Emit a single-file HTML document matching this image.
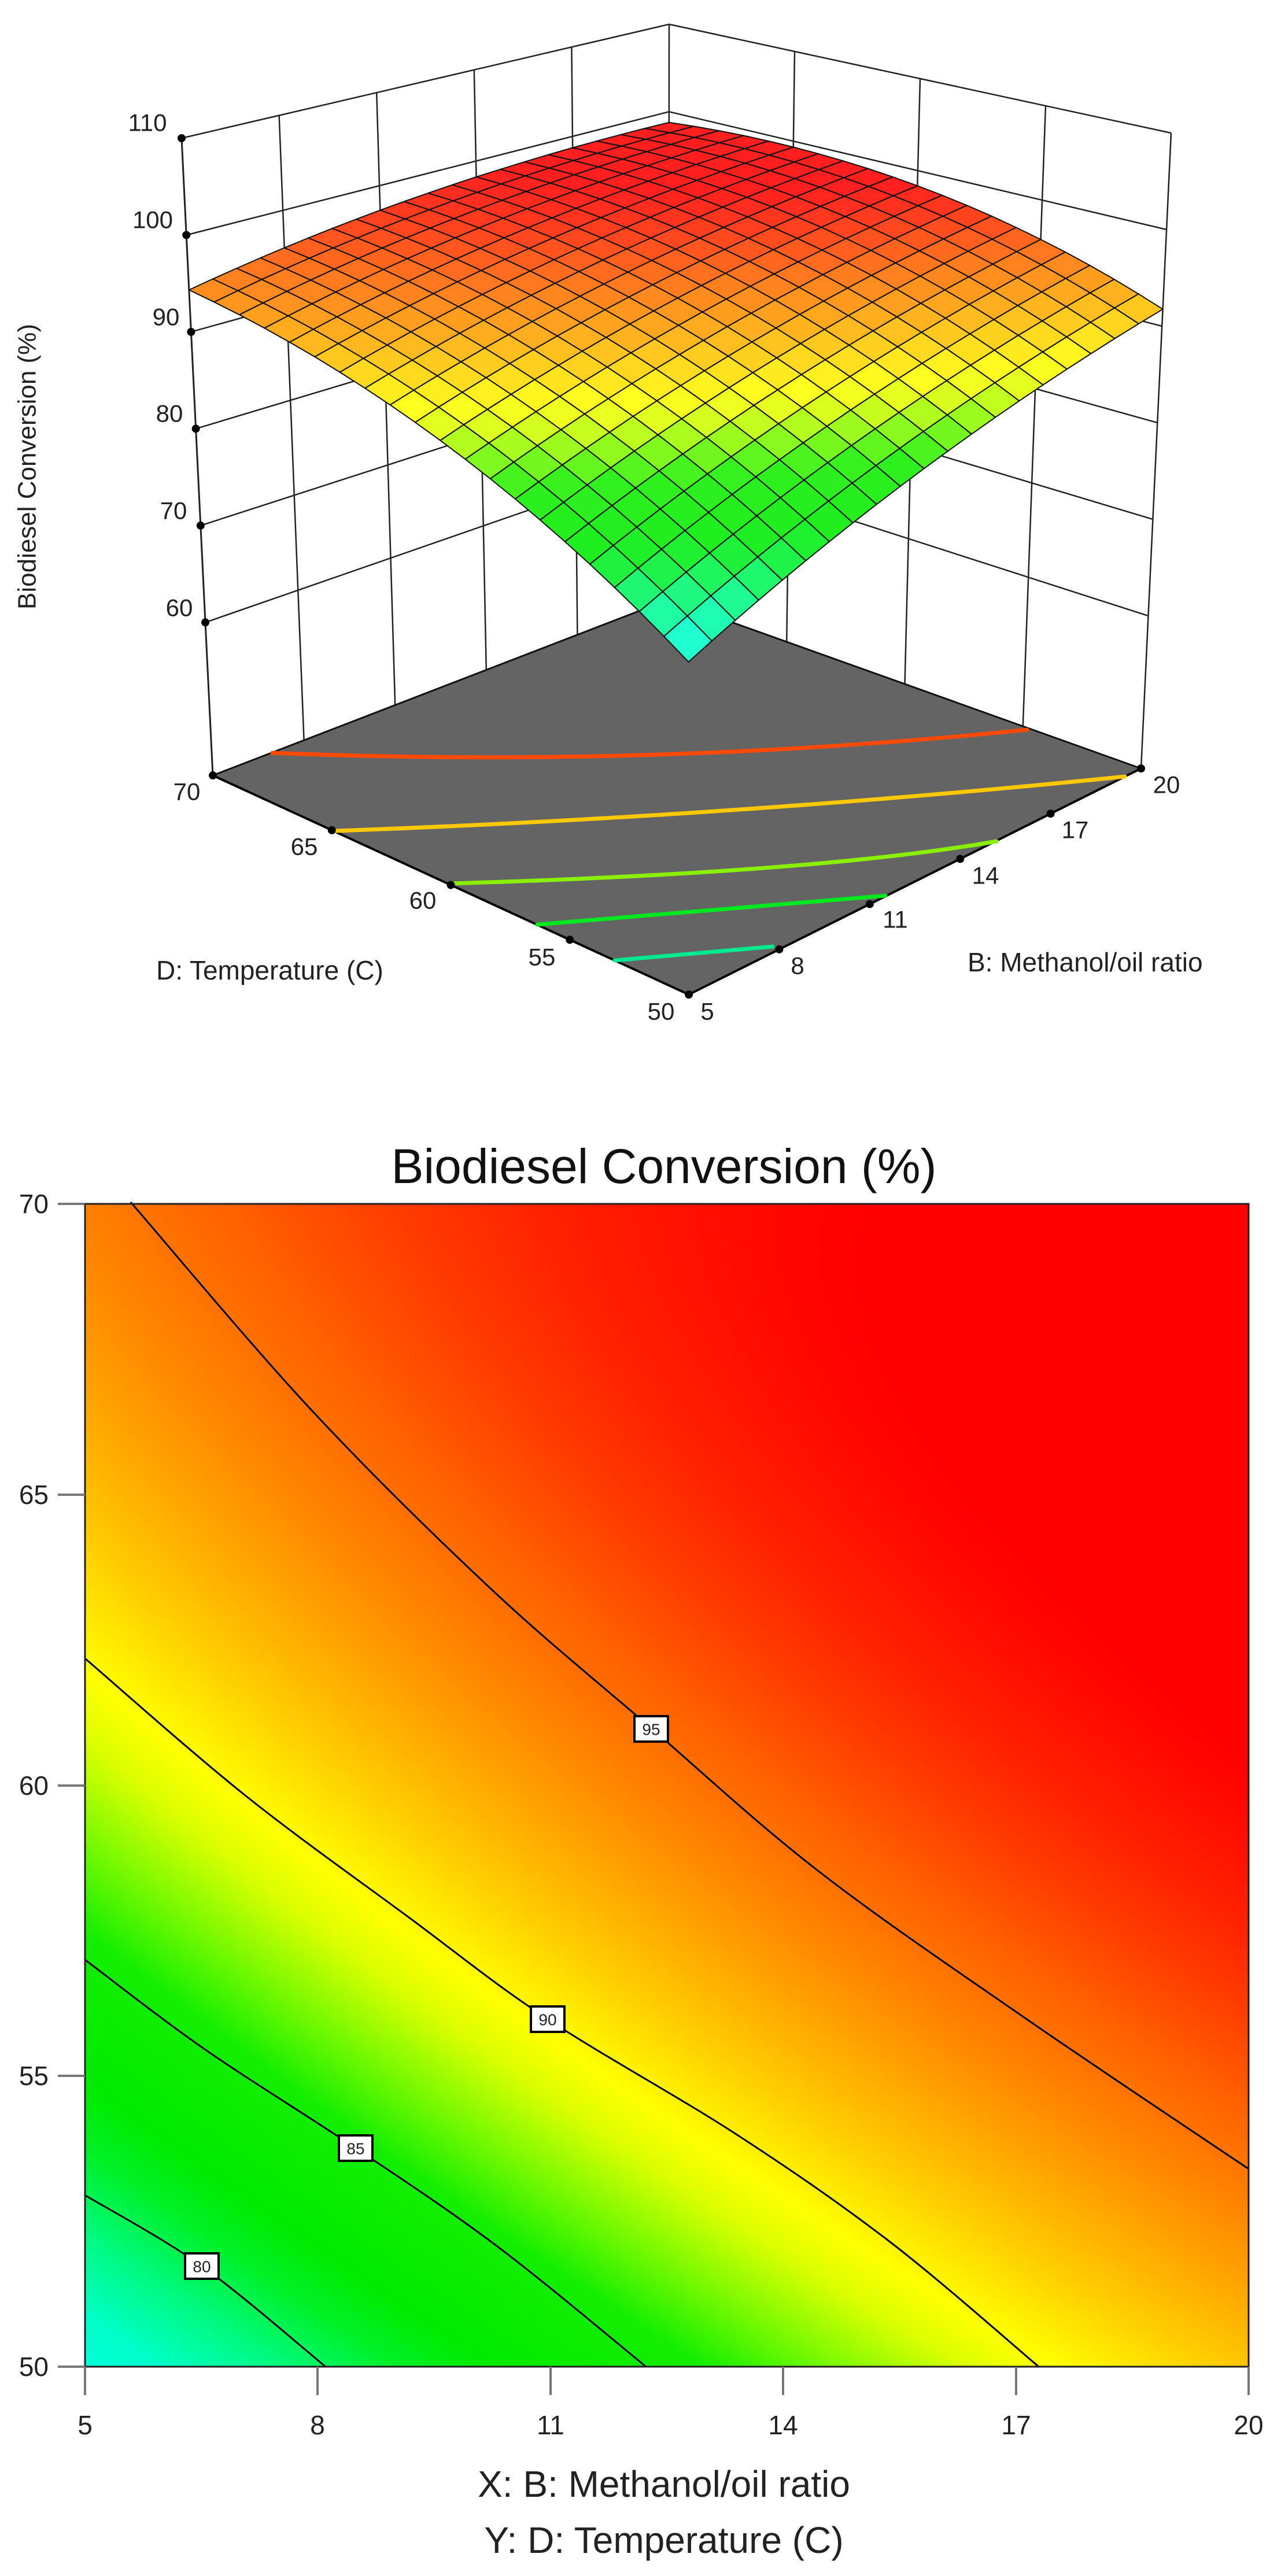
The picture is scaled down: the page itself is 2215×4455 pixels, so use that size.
<!DOCTYPE html>
<html><head><meta charset="utf-8">
<style>
html,body{margin:0;padding:0;background:#fff;}
body{width:2215px;height:4455px;position:relative;overflow:hidden;font-family:"Liberation Sans",sans-serif;}
svg{position:absolute;left:0;top:0;}
#cv{position:absolute;left:147px;top:2082px;width:2012px;height:2011px;}
</style></head>
<body>
<svg id="s3" width="2215" height="1850" viewBox="0 0 2215 1850">
<g id="walls"></g>
<g id="floor"></g>
<g id="fc" fill="none" stroke-width="7" stroke-linecap="round">
<path d="M471,1302 Q1123,1329 1776,1262" stroke="#ff4a00"/>
<path d="M580,1437 Q1268,1412 1945,1343" stroke="#ffc800"/>
<path d="M778,1528 Q1414,1509 1723,1455" stroke="#88f000"/>
<path d="M929,1599 Q1231,1574 1531,1549" stroke="#00e820"/>
<path d="M1063,1661 Q1200,1649 1336,1637" stroke="#00e890"/>
</g>
<g id="surf"></g>
<g id="front"></g>
<g font-size="42" fill="#222" text-anchor="middle" dominant-baseline="central">
<text x="255" y="212">110</text><text x="264" y="380">100</text><text x="287" y="548">90</text>
<text x="293" y="715">80</text><text x="300" y="883">70</text><text x="310" y="1051">60</text>
<text x="323" y="1369">70</text><text x="526" y="1464">65</text><text x="731" y="1557">60</text>
<text x="937" y="1655">55</text><text x="1143" y="1749">50</text>
<text x="1223" y="1749">5</text><text x="1379" y="1670">8</text><text x="1548" y="1590">11</text>
<text x="1704" y="1514">14</text><text x="1859" y="1435">17</text><text x="2017" y="1357">20</text>
</g>
<text x="270" y="1694" font-size="46" fill="#222">D: Temperature (C)</text>
<text x="1673" y="1680" font-size="46" fill="#222">B: Methanol/oil ratio</text>
<text transform="translate(47,807) rotate(-90)" font-size="44" fill="#222" text-anchor="middle" dominant-baseline="central">Biodiesel Conversion (%)</text>
</svg>

<canvas id="cv" width="2012" height="2011"></canvas>
<svg id="s2" width="2215" height="4455" viewBox="0 0 2215 4455" style="pointer-events:none">
<g id="clines" fill="none" stroke="#000" stroke-width="3"></g>
<g fill="#fff" stroke="#000" stroke-width="4">
<rect x="1097" y="2968" width="58" height="44"/>
<rect x="918" y="3470" width="58" height="44"/>
<rect x="586" y="3693" width="58" height="44"/>
<rect x="320" y="3897" width="58" height="44"/>
</g>
<g font-size="28" fill="#222" text-anchor="middle" dominant-baseline="central">
<text x="1126" y="2991">95</text><text x="947" y="3493">90</text><text x="615" y="3716">85</text><text x="349" y="3920">80</text>
</g>
<rect x="147" y="2082" width="2012" height="2011" fill="none" stroke="#222" stroke-width="3"/>
<g stroke="#777" stroke-width="4">
<line x1="100" y1="2082" x2="147" y2="2082"/><line x1="100" y1="2585" x2="147" y2="2585"/>
<line x1="100" y1="3088" x2="147" y2="3088"/><line x1="100" y1="3590" x2="147" y2="3590"/>
<line x1="100" y1="4093" x2="147" y2="4093"/>
<line x1="147" y1="4093" x2="147" y2="4142"/><line x1="549" y1="4093" x2="549" y2="4142"/>
<line x1="952" y1="4093" x2="952" y2="4142"/><line x1="1354" y1="4093" x2="1354" y2="4142"/>
<line x1="1757" y1="4093" x2="1757" y2="4142"/><line x1="2159" y1="4093" x2="2159" y2="4142"/>
</g>
<g font-size="46" fill="#222" text-anchor="end" dominant-baseline="central">
<text x="84" y="2082">70</text><text x="84" y="2585">65</text><text x="84" y="3088">60</text><text x="84" y="3590">55</text><text x="84" y="4093">50</text>
</g>
<g font-size="46" fill="#222" text-anchor="middle">
<text x="147" y="4210">5</text><text x="549" y="4210">8</text><text x="952" y="4210">11</text>
<text x="1354" y="4210">14</text><text x="1757" y="4210">17</text><text x="2159" y="4210">20</text>
</g>
<text x="1148" y="2046" font-size="84" fill="#111" text-anchor="middle">Biodiesel Conversion (%)</text>
<text x="1148" y="4318" font-size="64" fill="#222" text-anchor="middle">X: B: Methanol/oil ratio</text>
<text x="1148" y="4415" font-size="64" fill="#222" text-anchor="middle">Y: D: Temperature (C)</text>
</svg>

<script>
(function(){
var NS='http://www.w3.org/2000/svg';
var L95=[[226,2079],[537,2437],[848,2747],[1124,2987],[1414,3235],[1768,3487],[2159,3751]];
var L90=[[148,2869],[424,3105],[707,3316],[947,3492],[1273,3691],[1540,3878],[1796,4093]];
var L85=[[148,3390],[354,3544],[615,3715],[860,3885],[1117,4093]];
var L80=[[148,3797],[349,3919],[563,4093]];
function smooth(p){var s='M'+p[0][0]+','+p[0][1];
 for(var i=0;i<p.length-1;i++){var a=p[i-1]||p[i],b=p[i],c=p[i+1],d=p[i+2]||c;
  s+=' C'+(b[0]+(c[0]-a[0])/6).toFixed(1)+','+(b[1]+(c[1]-a[1])/6).toFixed(1)+' '+(c[0]-(d[0]-b[0])/6).toFixed(1)+','+(c[1]-(d[1]-b[1])/6).toFixed(1)+' '+c[0]+','+c[1];}
 return s;}
[L95,L90,L85,L80].forEach(function(L){var e=document.createElementNS(NS,'path');e.setAttribute('d',smooth(L));document.getElementById('clines').appendChild(e);});
var pts=[];
function addPx(px,py,v){pts.push([5+(px-147)/134.133,50+(4093-py)/100.55,v]);}
L95.forEach(function(p){addPx(p[0],p[1],95);});
L90.forEach(function(p){addPx(p[0],p[1],90);});
L85.forEach(function(p){addPx(p[0],p[1],85);});
L80.forEach(function(p){addPx(p[0],p[1],80);});
pts.push([5,50,75.7],[5,70,94],[20,50,91.3],[20,70,98.7]);
function basis(B,D){var x=(B-12.5)/7.5,y=(D-60)/10;return [1,x,y,x*x,y*y,x*y];}
var N=6,A=[],b=[];for(var i=0;i<N;i++){A.push([0,0,0,0,0,0]);b.push(0);}
pts.forEach(function(p){var f=basis(p[0],p[1]);for(var i=0;i<N;i++){b[i]+=f[i]*p[2];for(var j=0;j<N;j++)A[i][j]+=f[i]*f[j];}});
for(var i=0;i<N;i++){var m=i;for(var k=i+1;k<N;k++)if(Math.abs(A[k][i])>Math.abs(A[m][i]))m=k;
 var t=A[i];A[i]=A[m];A[m]=t;t=b[i];b[i]=b[m];b[m]=t;
 for(var k=i+1;k<N;k++){var r=A[k][i]/A[i][i];for(var j=i;j<N;j++)A[k][j]-=r*A[i][j];b[k]-=r*b[i];}}
var c=[0,0,0,0,0,0];for(var i=N-1;i>=0;i--){var s=b[i];for(var j=i+1;j<N;j++)s-=A[i][j]*c[j];c[i]=s/A[i][i];}
function model(B,D){var f=basis(B,D),s=0;for(var i=0;i<N;i++)s+=f[i]*c[i];return s;}
var stops=[[75,0,255,225],[77,0,255,200],[79,0,250,130],[81,0,240,40],[82.5,0,235,0],[85.5,20,238,0],[87,110,248,0],[88.8,220,255,0],[89.8,255,255,0],[91.5,255,205,0],[93.5,255,150,0],[95.5,255,95,0],[97.3,255,35,0],[98.5,255,0,0]];
function cmap(v){if(v<=stops[0][0])return stops[0].slice(1);
 for(var i=1;i<stops.length;i++){if(v<=stops[i][0]){var a=stops[i-1],q=stops[i],t=(v-a[0])/(q[0]-a[0]);
 return [a[1]+(q[1]-a[1])*t,a[2]+(q[2]-a[2])*t,a[3]+(q[3]-a[3])*t];}}
 return stops[stops.length-1].slice(1);}
var cv=document.getElementById('cv'),ctx=cv.getContext('2d'),W=2012,H=2011;
var img=ctx.createImageData(W,H),d=img.data;
for(var y=0;y<H;y++){var D=70-y/100.55;for(var x=0;x<W;x++){var B=5+x/134.133;var col=cmap(model(B,D));var o=(y*W+x)*4;
 d[o]=col[0];d[o+1]=col[1];d[o+2]=col[2];d[o+3]=255;}}
ctx.putImageData(img,0,0);
var Fc={f:[1191,1720],r:[1973,1329],l:[368,1341],b:[1156,1037]};
var Tc={f:[1190,515],r:[2025,230],l:[314,239],b:[1157,42]};
var Z0=44.2,ZR=65.8;
function bil(C,u,v){return [C.f[0]*(1-u)*(1-v)+C.r[0]*u*(1-v)+C.l[0]*(1-u)*v+C.b[0]*u*v,
 C.f[1]*(1-u)*(1-v)+C.r[1]*u*(1-v)+C.l[1]*(1-u)*v+C.b[1]*u*v];}
function P(u,v,z){var F=bil(Fc,u,v),T=bil(Tc,u,v),t=(z-Z0)/ZR;return [F[0]+(T[0]-F[0])*t,F[1]+(T[1]-F[1])*t];}
function el(g,tag,at){var e=document.createElementNS(NS,tag);for(var k in at)e.setAttribute(k,at[k]);document.getElementById(g).appendChild(e);return e;}
function line(g,a,b,w,col){el(g,'line',{x1:a[0],y1:a[1],x2:b[0],y2:b[1],stroke:col||'#222','stroke-width':w||2.5});}
var zs=[60,70,80,90,100,110];
zs.forEach(function(z){line('walls',P(0,1,z),P(1,1,z));line('walls',P(1,1,z),P(1,0,z));});
[0.2,0.4,0.6,0.8,1].forEach(function(u){line('walls',P(u,1,Z0),P(u,1,110));});
[0.25,0.5,0.75,0].forEach(function(v){line('walls',P(1,v,Z0),P(1,v,110));});
line('walls',P(0,1,Z0),P(0,1,110),3);
var fp=[P(0,0,Z0),P(1,0,Z0),P(1,1,Z0),P(0,1,Z0)];
el('floor','polygon',{points:fp.map(function(p){return p.join(',');}).join(' '),fill:'#646464'});
line('floor',fp[0],fp[1],4,'#000');line('floor',fp[0],fp[3],4,'#000');
line('floor',fp[1],fp[2],3,'#111');line('floor',fp[3],fp[2],3,'#111');
var n=20,cells=[];
for(var i=0;i<n;i++)for(var j=0;j<n;j++){cells.push([i,j,(n-1-i)+(n-1-j)]);}
cells.sort(function(a,b){return b[2]-a[2];});
cells.forEach(function(cl){var i=cl[0],j=cl[1];var us=[i/n,(i+1)/n],vs=[j/n,(j+1)/n];
 var q=[[us[0],vs[0]],[us[1],vs[0]],[us[1],vs[1]],[us[0],vs[1]]];var zsum=0;
 var pp=q.map(function(a){var z=model(5+15*a[0],50+20*a[1]);zsum+=z;return P(a[0],a[1],z).map(function(v){return v.toFixed(1);}).join(',');});
 var col=cmap(zsum/4);col=col.map(function(v){return Math.round(v*0.88+255*0.12);});
 el('surf','polygon',{points:pp.join(' '),fill:'rgb('+col.join(',')+')',stroke:'#111','stroke-width':2,'stroke-linejoin':'round'});});
zs.forEach(function(z){var p=P(0,1,z);el('front','circle',{cx:p[0],cy:p[1],r:7,fill:'#000'});});
[0,0.25,0.5,0.75,1].forEach(function(v){var p=P(0,v,Z0);el('front','circle',{cx:p[0],cy:p[1],r:7,fill:'#000'});});
[0.2,0.4,0.6,0.8,1].forEach(function(u){var p=P(u,0,Z0);el('front','circle',{cx:p[0],cy:p[1],r:7,fill:'#000'});});
})();
</script>
</body></html>
